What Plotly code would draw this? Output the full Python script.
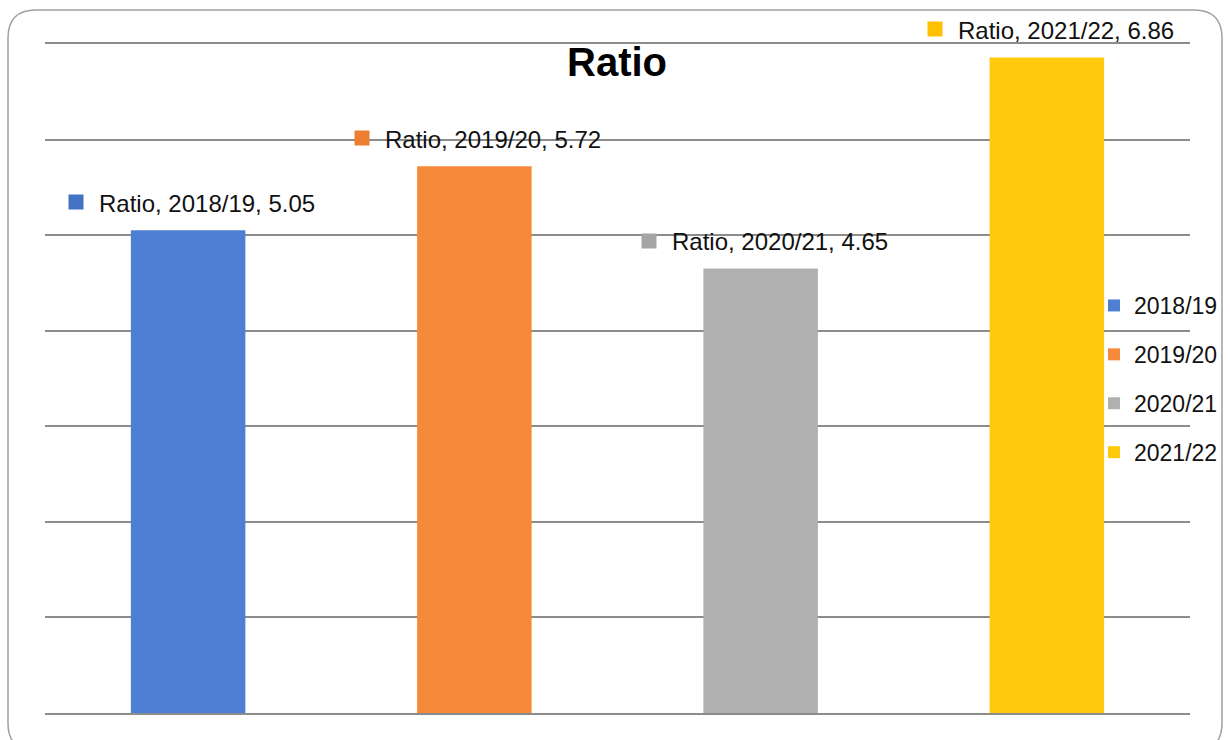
import plotly.graph_objects as go

categories = ["2018/19", "2019/20", "2020/21", "2021/22"]
values = [5.05, 5.72, 4.65, 6.86]
series_name = "Ratio"
bar_colors = ["#4E7FD2", "#F7893B", "#B0B0B0", "#FFCA0E"]
legend_colors = ["#4472C4", "#ED7D31", "#A5A5A5", "#FFC000"]
y_ticks = [0, 1, 2, 3, 4, 5, 6, 7]

W, H = 1230, 740
ML, MR, MT, MB = 45, 40, 44, 27
PW, PH = W - ML - MR, H - MT - MB


def px_x(x):
    return (x - ML) / PW


def px_y(y):
    return (H - MB - y) / PH


fig = go.Figure()
for i, (cat, val, col) in enumerate(zip(categories, values, bar_colors)):
    fig.add_trace(go.Bar(
        x=[cat], y=[val], name=cat, width=0.4, legendgroup=f"g{i}",
        marker=dict(color=col, line=dict(width=0)),
    ))

annotations = []
for cat, val, col in zip(categories, values, legend_colors):
    annotations.append(dict(
        x=cat, y=val, xref="x", yref="y", xanchor="left", yanchor="middle",
        xshift=-91, yshift=27, showarrow=False,
        text=f"{series_name}, {cat}, {val:.2f}",
        font=dict(family="Liberation Sans", size=24, color="#111111"),
    ))
    annotations.append(dict(
        x=cat, y=val, xref="x", yref="y", xanchor="center", yanchor="middle",
        xshift=-112, yshift=28, showarrow=False, text=" ",
        width=14, height=14, bgcolor=col, borderpad=0,
        font=dict(size=4),
    ))

# rounded outer border
x0, x1, y0, y1, r = 8, 1222, 10, 751, 28
path = (
    f"M {px_x(x0 + r)},{px_y(y0)} L {px_x(x1 - r)},{px_y(y0)} "
    f"Q {px_x(x1)},{px_y(y0)} {px_x(x1)},{px_y(y0 + r)} "
    f"L {px_x(x1)},{px_y(y1 - r)} Q {px_x(x1)},{px_y(y1)} {px_x(x1 - r)},{px_y(y1)} "
    f"L {px_x(x0 + r)},{px_y(y1)} Q {px_x(x0)},{px_y(y1)} {px_x(x0)},{px_y(y1 - r)} "
    f"L {px_x(x0)},{px_y(y0 + r)} Q {px_x(x0)},{px_y(y0)} {px_x(x0 + r)},{px_y(y0)} Z"
)

fig.update_layout(
    width=W, height=H,
    margin=dict(l=ML, r=MR, t=MT, b=MB, autoexpand=False),
    paper_bgcolor="white", plot_bgcolor="white",
    barmode="overlay",
    title=dict(text="<b>Ratio</b>", x=617 / W, xanchor="center",
               y=1 - 62 / H, yanchor="middle",
               font=dict(family="Liberation Sans", size=40, color="#000000")),
    showlegend=True,
    legend=dict(xref="container", yref="container",
                x=1094 / W, xanchor="left", y=1 - 284 / H, yanchor="top",
                bgcolor="rgba(0,0,0,0)", tracegroupgap=16,
                font=dict(family="Liberation Sans", size=23, color="#111111")),
    xaxis=dict(range=[-0.5, 3.5], showticklabels=False, showgrid=False,
               zeroline=False, showline=True, mirror=True,
               linecolor="#8C8C8C", linewidth=2, ticks=""),
    yaxis=dict(range=[0, 7], tickvals=y_ticks, showticklabels=False,
               showgrid=True, gridcolor="#8C8C8C", gridwidth=2,
               zeroline=False, showline=False, ticks=""),
    annotations=annotations,
    shapes=[dict(type="path", path=path, xref="paper", yref="paper",
                 line=dict(color="#A0A0A0", width=1.5), layer="above")],
)

fig.write_html("out.html")
